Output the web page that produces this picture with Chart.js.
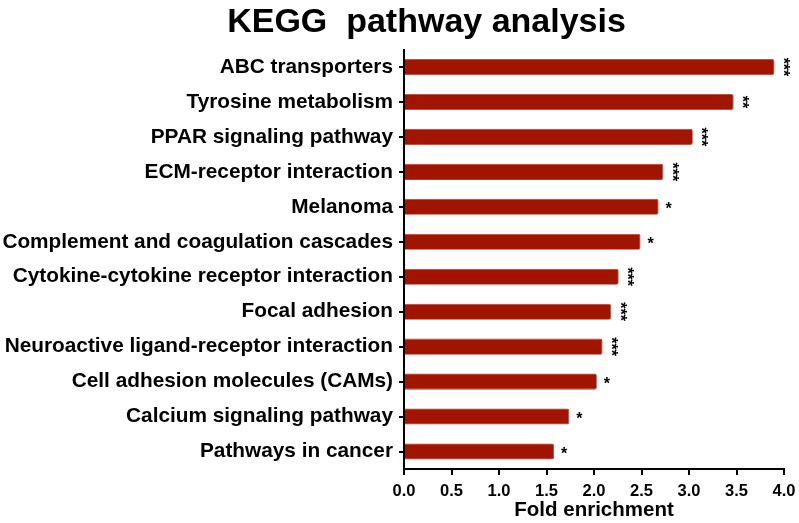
<!DOCTYPE html>
<html>
<head>
<meta charset="utf-8">
<script src="https://cdn.jsdelivr.net/npm/chart.js@4/dist/chart.umd.min.js"></script>
<style>
html,body{margin:0;padding:0;background:#fff;overflow:hidden;}
#wrap{width:799px;height:523px;position:relative;}
canvas{display:block;}
</style>
</head>
<body>
<div id="wrap"><canvas id="c"></canvas></div>
<script>
const titleText = "KEGG  pathway analysis";
const xAxisTitle = "Fold enrichment";
const categories = [
  "ABC transporters",
  "Tyrosine metabolism",
  "PPAR signaling pathway",
  "ECM-receptor interaction",
  "Melanoma",
  "Complement and coagulation cascades",
  "Cytokine-cytokine receptor interaction",
  "Focal adhesion",
  "Neuroactive ligand-receptor interaction",
  "Cell adhesion molecules (CAMs)",
  "Calcium signaling pathway",
  "Pathways in cancer"
];
const foldEnrichment = [3.90, 3.47, 3.04, 2.73, 2.68, 2.49, 2.26, 2.18, 2.09, 2.03, 1.74, 1.58];
const significance = ["***", "**", "***", "***", "*", "*", "***", "***", "***", "*", "*", "*"];
const xTicks = [0, 0.5, 1, 1.5, 2, 2.5, 3, 3.5, 4];

const FONT = '"Liberation Sans", Arial, sans-serif';

const titlePlugin = {
  id: 'kTitle',
  afterDraw(chart) {
    const ctx = chart.ctx;
    ctx.save();
    ctx.font = 'bold 34px ' + FONT;
    ctx.fillStyle = '#000';
    ctx.textAlign = 'center';
    ctx.textBaseline = 'alphabetic';
    ctx.fillText(titleText, 426.5, 32);
    ctx.restore();
  }
};

const starPlugin = {
  id: 'stars',
  afterDatasetsDraw(chart) {
    const ctx = chart.ctx;
    const xs = chart.scales.x, ys = chart.scales.y;
    ctx.save();
    ctx.fillStyle = '#000';
    ctx.font = 'bold 16px ' + FONT;
    ctx.textAlign = 'center';
    ctx.textBaseline = 'middle';
    foldEnrichment.forEach((v, i) => {
      const x = xs.getPixelForValue(v) + 10;
      const y = ys.getPixelForValue(i);
      const s = significance[i];
      ctx.save();
      if (s.length > 1) {
        ctx.translate(x, y);
        ctx.rotate(Math.PI / 2);
        ctx.fillText(s, 0, 2);
      } else {
        ctx.fillText(s, x, y + 3);
      }
      ctx.restore();
    });
    ctx.restore();
  }
};

new Chart(document.getElementById('c'), {
  type: 'bar',
  data: {
    labels: categories,
    datasets: [{
      data: foldEnrichment,
      backgroundColor: '#A11500',
      borderColor: '#B83A2A',
      borderWidth: 0.8,
      borderRadius: 2,
      borderSkipped: 'start',
      barPercentage: 0.46,
      categoryPercentage: 1.0
    }]
  },
  options: {
    indexAxis: 'y',
    responsive: true,
    maintainAspectRatio: false,
    animation: false,
    layout: { padding: { left: 0, right: 15, top: 49.5, bottom: 0 } },
    plugins: {
      legend: { display: false },
      tooltip: { enabled: false },
      title: { display: false }
    },
    scales: {
      x: {
        type: 'linear',
        min: 0, max: 4,
        afterBuildTicks(scale) { scale.ticks = xTicks.map(v => ({ value: v })); },
        afterFit(scale) { scale.height = 54; scale.paddingLeft = 0; scale.paddingRight = 0; },
        grid: { display: true, drawOnChartArea: false, drawTicks: true, tickLength: 6, color: '#000', lineWidth: 2 },
        border: { display: true, color: '#000', width: 2 },
        ticks: {
          color: '#000',
          padding: 7,
          maxRotation: 0,
          font: { family: FONT, size: 16.5, weight: 'bold' },
          callback: (v) => Number(v).toFixed(1)
        },
        title: {
          display: true,
          text: xAxisTitle,
          color: '#000',
          padding: { top: 0, bottom: 0 },
          font: { family: FONT, size: 20.5, weight: 'bold' }
        }
      },
      y: {
        type: 'category',
        afterFit(scale) { scale.width = 404; scale.paddingTop = 0; scale.paddingBottom = 0; },
        grid: { display: true, offset: false, drawOnChartArea: false, drawTicks: true, tickLength: 5, color: '#000', lineWidth: 2 },
        border: { display: true, color: '#000', width: 2 },
        ticks: {
          color: '#000',
          padding: 6,
          font: { family: FONT, size: 20.8, weight: 'bold' }
        }
      }
    }
  },
  plugins: [starPlugin, titlePlugin]
});
</script>
</body>
</html>
